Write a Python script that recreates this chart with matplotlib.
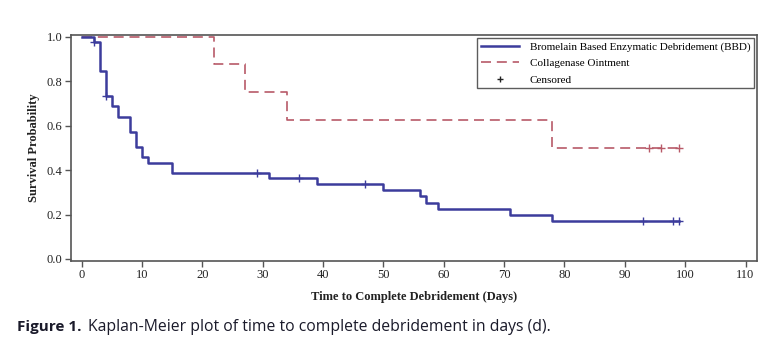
import matplotlib
matplotlib.use("Agg")
import matplotlib.pyplot as plt
from matplotlib.lines import Line2D

# BBD step curve (time, survival after step)
bbd_t = [0, 2, 3, 4, 5, 6, 8, 9, 10, 11, 15, 31, 39, 50, 56, 57, 59, 71, 78, 99]
bbd_s = [1.0, 0.976, 0.844, 0.733, 0.688, 0.639, 0.571, 0.504, 0.458, 0.433,
         0.388, 0.365, 0.338, 0.311, 0.282, 0.253, 0.225, 0.197, 0.169, 0.169]
bbd_cens_t = [2, 4, 29, 36, 47, 93, 98, 99]
bbd_cens_s = [0.976, 0.733, 0.388, 0.365, 0.338, 0.169, 0.169, 0.169]

col_t = [0, 22, 27, 34, 78, 99]
col_s = [1.0, 0.875, 0.75, 0.625, 0.5, 0.5]
col_cens_t = [94, 96, 99]
col_cens_s = [0.5, 0.5, 0.5]

x_ticks = [0, 10, 20, 30, 40, 50, 60, 70, 80, 90, 100, 110]
y_ticks = [0.0, 0.2, 0.4, 0.6, 0.8, 1.0]

blue = "#3c3c9c"
red = "#b85a68"
frame = "#555555"

fig = plt.figure(figsize=(7.73, 3.58), dpi=100)
ax = fig.add_axes([71 / 773, 97 / 358, (757 - 71) / 773, (261 - 35) / 358])

ax.plot(col_t, col_s, drawstyle="steps-post", color=red, lw=1.2,
        dashes=(6, 3.5))
ax.plot(bbd_t, bbd_s, drawstyle="steps-post", color=blue, lw=1.8)
ax.plot(bbd_cens_t, bbd_cens_s, ls="none", marker="+", ms=6, mew=1.0, color=blue)
ax.plot(col_cens_t, col_cens_s, ls="none", marker="+", ms=6, mew=1.0, color=red)

ax.set_xlim(-1.77, 111.9)
ax.set_ylim(-0.009, 1.0076)
ax.set_xticks(x_ticks)
ax.set_yticks(y_ticks)
ax.set_yticklabels([f"{v:.1f}" for v in y_ticks])

serif = "Liberation Serif"
for lab in ax.get_xticklabels() + ax.get_yticklabels():
    lab.set_fontfamily(serif)
    lab.set_fontsize(9)
    lab.set_color("#222222")
ax.tick_params(direction="out", length=4, width=1, color=frame, pad=2)
for sp in ax.spines.values():
    sp.set_color(frame)
    sp.set_linewidth(1.2)

ax.set_xlabel("Time to Complete Debridement (Days)", fontfamily=serif,
              fontsize=9, fontweight="bold", color="#222222", labelpad=7)
ax.set_ylabel("Survival Probability", fontfamily=serif, fontsize=9,
              fontweight="bold", color="#222222", labelpad=5)

handles = [Line2D([], [], color=blue, lw=1.8),
           Line2D([], [], color=red, lw=1.2, dashes=(6, 3.5)),
           Line2D([], [], ls="none", marker="+", color="#222222", ms=5)]
labels = ["Bromelain Based Enzymatic Debridement (BBD)",
          "Collagenase Ointment", "Censored"]
leg = ax.legend(handles, labels, loc="upper right", prop={"family": serif, "size": 8},
                frameon=True, fancybox=False, borderpad=0.35, labelspacing=0.6,
                handlelength=3.4, handletextpad=1.0, borderaxespad=0.25)
leg.get_frame().set_edgecolor("#333333")
leg.get_frame().set_linewidth(1.0)

fig.text(17 / 773, 1 - 327 / 358, "Figure 1.", fontfamily="Open Sans",
         fontweight="bold", fontsize=11, color="#1a1a2a", va="center")
fig.text(88 / 773, 1 - 327 / 358, "Kaplan-Meier plot of time to complete debridement in days (d).",
         fontfamily="Open Sans", fontsize=11.3, color="#1a1a2a", va="center")

fig.savefig("out.png", dpi=100)
